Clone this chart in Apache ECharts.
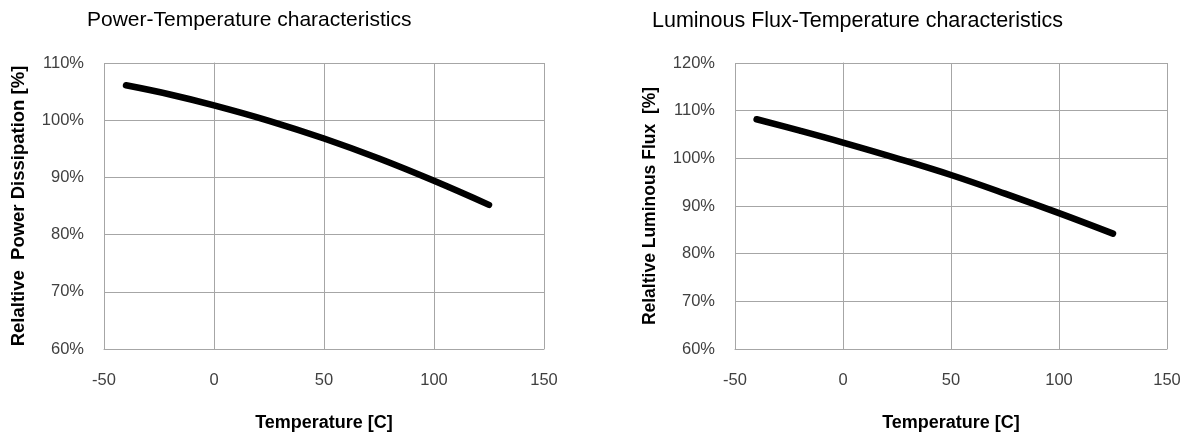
<!DOCTYPE html>
<html>
<head>
<meta charset="utf-8">
<script src="https://cdn.jsdelivr.net/npm/echarts@6/dist/echarts.min.js"></script>
<style>
html,body{margin:0;padding:0;background:#fff;}
#c{width:1188px;height:437px;}
</style>
</head>
<body>
<div id="c"></div>
<script>
var tempPower = [-40, -20, 0, 25, 50, 75, 100, 125];
var powerValues = [106.1, 104.5, 102.6, 99.9, 96.8, 93.3, 89.4, 85.2];
var tempFlux = [-40, -20, 0, 25, 50, 75, 100, 125];
var fluxValues = [108.2, 105.8, 103.3, 100.0, 96.5, 92.6, 88.5, 84.2];

var xTicks = { min: -50, max: 150, interval: 50 };
var powerTicks = { min: 60, max: 110, interval: 10 };
var fluxTicks = { min: 60, max: 120, interval: 10 };

function pairs(xs, ys) {
  return xs.map(function (x, i) { return [x, ys[i]]; });
}

var gridColor = '#a6a6a6';
var labelStyle = { color: '#404040', fontFamily: 'Liberation Sans', fontSize: 16.5 };
var nameStyle = { color: '#000', fontFamily: 'Liberation Sans', fontWeight: 'bold', fontSize: 18 };

function xAxis(gi) {
  return {
    type: 'value', gridIndex: gi, min: xTicks.min, max: xTicks.max, interval: xTicks.interval,
    name: 'Temperature [C]', nameLocation: 'middle', nameGap: 65, nameTextStyle: nameStyle,
    axisLine: { show: true, lineStyle: { color: gridColor, width: 1 } },
    axisTick: { show: false },
    axisLabel: Object.assign({ margin: 23 }, labelStyle),
    splitLine: { show: true, lineStyle: { color: gridColor, width: 1 } }
  };
}
function yAxis(gi, t, name, fs) {
  return {
    type: 'value', gridIndex: gi, min: t.min, max: t.max, interval: t.interval,
    name: name, nameLocation: 'middle', nameGap: 76,
    nameTextStyle: Object.assign({}, nameStyle, { fontSize: fs }),
    axisLine: { show: true, lineStyle: { color: gridColor, width: 1 } },
    axisTick: { show: false },
    axisLabel: Object.assign({ margin: 20, formatter: function (v) { return v + '%'; } }, labelStyle),
    splitLine: { show: true, lineStyle: { color: gridColor, width: 1 } }
  };
}

var chart = echarts.init(document.getElementById('c'));
chart.setOption({
  animation: false,
  backgroundColor: '#fff',
  title: [
    { text: 'Power-Temperature characteristics', left: 87, top: 10, padding: 0,
      textStyle: { fontFamily: 'Liberation Sans', fontWeight: 'normal', fontSize: 21, color: '#000' } },
    { text: 'Luminous Flux-Temperature characteristics', left: 652, top: 10, padding: 0,
      textStyle: { fontFamily: 'Liberation Sans', fontWeight: 'normal', fontSize: 21.5, color: '#000' } }
  ],
  grid: [
    { left: 104, right: 644, top: 63, bottom: 85 },
    { left: 735, right: 21, top: 63, bottom: 85 }
  ],
  xAxis: [xAxis(0), xAxis(1)],
  yAxis: [
    yAxis(0, powerTicks, 'Relaltive  Power Dissipation [%]', 18.5),
    yAxis(1, fluxTicks, 'Relaltive Luminous Flux  [%]', 17.5)
  ],
  series: [
    { type: 'line', xAxisIndex: 0, yAxisIndex: 0, data: pairs(tempPower, powerValues),
      smooth: 0.4, symbol: 'none', lineStyle: { color: '#000', width: 6.5, cap: 'round' } },
    { type: 'line', xAxisIndex: 1, yAxisIndex: 1, data: pairs(tempFlux, fluxValues),
      smooth: 0.4, symbol: 'none', lineStyle: { color: '#000', width: 6.5, cap: 'round' } }
  ]
});
</script>
</body>
</html>
